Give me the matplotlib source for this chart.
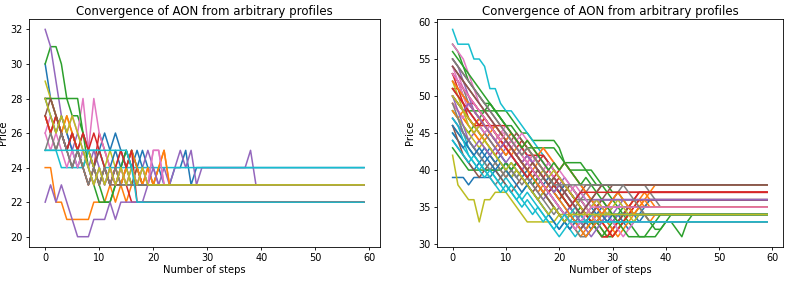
import numpy as np
import matplotlib
matplotlib.use("Agg")
import matplotlib.pyplot as plt

# price paths, recorded step by step until each one settles;
# afterwards a path stays at its last price up to step 59
n_steps = 60

left_paths = [
    [30, 28, 27, 26, 25, 26, 25, 24, 25, 24, 25, 26, 25, 26, 25, 24, 25, 24, 25, 24, 23, 24, 23, 23, 24, 24, 25, 23, 24],
    [24, 24, 22, 22, 21, 21, 21, 21, 21, 22, 22, 22, 23, 22, 23, 22, 23, 24, 23, 24, 23, 24, 25, 23],
    [30, 31, 31, 30, 28, 27, 27, 26, 25, 24, 23, 22, 22, 23, 23, 24, 25, 24, 23],
    [28, 28, 27, 26, 25, 26, 25, 24, 23, 24, 26, 25, 24, 23, 24, 23, 22, 22, 22],
    [32, 31, 29, 27, 26, 25, 26, 25, 24, 25, 24, 23, 24, 23, 24, 25, 24, 23, 24, 25, 24, 23, 24, 23, 24, 25, 24, 25, 23,
     24, 24, 24, 24, 24, 24, 24, 24, 24, 25, 23],
    [27, 26, 25, 26, 25, 26, 25, 26, 25, 24, 25, 24, 23, 24, 23, 24, 23, 24, 23],
    [26, 27, 26, 27, 26, 27, 26, 28, 25, 28, 26, 25, 24, 23, 24, 23, 24, 23, 24, 23, 25, 25, 23],
    [27, 26, 27, 26, 25, 24, 25, 24, 25, 24, 23, 24, 23, 24, 25, 24, 23],
    [29, 28, 27, 26, 27, 26, 25, 24, 25, 24, 23, 24, 25, 24, 23, 24, 23],
    [25, 25, 25, 24, 24, 24, 24, 24, 25, 25, 25, 24],
    [28, 27, 26, 27, 26, 25, 24, 25, 24, 23, 24, 23, 24, 25, 24, 25, 24, 25, 24, 23],
    [27, 26, 27, 26, 27, 26, 25, 24, 23, 24, 23, 24, 23, 24, 23, 24, 25, 24, 23, 24, 23, 24, 25, 23],
    [28, 28, 28, 28, 28, 28, 28, 26, 24, 23, 22, 22, 22, 23, 24, 25, 24, 23],
    [27, 26, 27, 26, 25, 26, 25, 26, 25, 26, 25, 24, 23, 24, 25, 24, 25, 22],
    [22, 23, 22, 23, 22, 21, 20, 20, 20, 21, 21, 21, 22, 21, 22, 22, 22, 22, 22, 23, 24, 23],
    [27, 28, 27, 26, 25, 24, 25, 24, 23, 24, 23, 24, 23],
    [26, 25, 26, 25, 24, 25, 24, 25, 24, 23, 24, 23, 24, 23, 24, 23, 24, 23, 24, 23, 25, 25, 23],
    [25, 26, 25, 26, 25, 24, 25, 24, 23, 24, 23, 24, 23, 24, 23],
    [28, 27, 26, 27, 26, 27, 26, 25, 24, 23, 24, 23, 24, 23, 24, 23, 24, 23, 24, 23],
    [25, 25, 25, 25, 25, 25, 25, 25, 25, 25, 25, 25, 25, 25, 25, 25, 24, 22],
]

right_paths = [
    [39, 39, 39, 38, 39, 39, 39, 39, 40, 39, 40, 41, 40, 39, 40, 39, 38, 37, 38, 37, 36, 35, 34, 33, 34, 33, 32, 33, 34, 33, 32, 33, 34, 35, 34, 33, 34],
    [49, 48, 47, 46, 45, 44, 45, 44, 43, 44, 43, 42, 43, 42, 41, 40, 41, 40, 39, 38, 37, 36, 35, 34, 33, 32, 33, 34, 33, 32, 31, 32, 33, 34, 35, 36, 35, 36],
    [57, 56, 54, 52, 51, 50, 49, 49, 48, 48, 48, 47, 46, 45, 45, 44, 44, 44, 44, 44, 43, 41, 41, 41, 41, 40, 40, 39, 38, 38, 37, 37, 36, 35, 34, 35, 34, 33, 32, 32, 33, 33, 32, 31, 33, 34],
    [51, 51, 50, 49, 49, 48, 47, 46, 45, 44, 43, 44, 43, 44, 43, 42, 41, 42, 41, 40, 39, 38, 37, 36, 35, 34, 33, 32, 31, 31, 32, 33, 34, 35, 36, 37],
    [55, 54, 52, 50, 48, 47, 46, 45, 44, 45, 44, 43, 42, 43, 42, 41, 42, 41, 40, 39, 38, 39, 38, 37, 36, 35, 36, 35, 34, 33, 34, 35, 36],
    [53, 52, 50, 49, 48, 47, 46, 45, 44, 43, 42, 43, 42, 41, 40, 39, 40, 39, 38, 37, 38, 37, 36, 35, 34, 33, 34, 35, 36, 37, 38],
    [54, 53, 51, 50, 49, 48, 47, 46, 46, 45, 45, 44, 43, 42, 43, 42, 41, 40, 41, 40, 39, 38, 37, 36, 35, 34, 33, 34, 35, 34, 35],
    [53, 52, 51, 49, 48, 47, 46, 45, 44, 43, 44, 43, 42, 41, 40, 39, 38, 39, 38, 37, 36, 37, 36, 35, 36, 37, 38, 38, 38, 38, 38, 38, 38, 38, 38, 38, 38, 37, 36, 35],
    [42, 38, 37, 36, 36, 33, 36, 36, 37, 37, 37, 36, 35, 34, 33, 33, 33, 33, 33, 33, 34, 34, 34],
    [59, 57, 57, 57, 55, 55, 54, 51, 51, 49, 48, 48, 47, 46, 45, 44, 43, 42, 41, 40, 39, 38, 37, 36, 35, 34, 33, 32, 33, 34, 33, 32, 33],
    [47, 46, 45, 44, 43, 42, 41, 42, 41, 40, 41, 40, 39, 40, 39, 38, 39, 38, 37, 38, 37, 36, 35, 34, 33, 32, 33, 34, 33, 34, 35],
    [50, 49, 48, 47, 46, 45, 44, 45, 44, 43, 44, 43, 42, 41, 40, 41, 40, 39, 38, 39, 38, 37, 36, 35, 34, 35, 34, 33, 32, 31, 32, 33, 34, 35, 36, 35, 34, 33, 34],
    [48, 47, 46, 45, 46, 47, 48, 49, 48, 47, 46, 45, 44, 43, 42, 41, 40, 39, 38, 39, 38, 37, 38, 37, 36, 35, 34, 33, 32, 31, 31, 32, 33, 34],
    [50, 49, 48, 47, 46, 45, 44, 43, 42, 43, 44, 43, 42, 41, 42, 41, 40, 39, 40, 39, 40, 41, 40, 39, 38, 37, 36, 35, 34, 35, 36, 37],
    [52, 51, 50, 49, 48, 47, 46, 45, 44, 43, 44, 45, 44, 43, 42, 41, 42, 41, 40, 39, 38, 37, 36, 35, 34, 33, 34, 35, 36],
    [54, 53, 52, 51, 50, 49, 48, 47, 46, 45, 44, 43, 42, 41, 40, 39, 40, 39, 38, 37, 36, 37, 38, 37, 36, 35, 36, 37, 38],
    [57, 56, 55, 53, 51, 49, 48, 47, 46, 45, 44, 43, 44, 43, 42, 41, 42, 41, 40, 39, 38, 37, 36, 35, 34, 33, 34, 35],
    [46, 45, 44, 43, 42, 41, 40, 39, 38, 39, 40, 39, 40, 39, 38, 37, 36, 37, 36, 35, 34, 33, 32, 33, 34, 33, 34],
    [51, 50, 49, 48, 47, 46, 47, 46, 45, 44, 43, 42, 41, 40, 39, 40, 39, 40, 39, 38, 37, 36, 35, 34, 33, 32, 33, 34],
    [48, 47, 45, 43, 42, 41, 40, 40, 40, 39, 38, 37, 36, 37, 38, 37, 36, 35, 34, 35, 34, 33, 32, 31, 32, 33, 34, 33],
    [44, 43, 42, 41, 40, 41, 42, 43, 42, 41, 40, 39, 40, 39, 38, 39, 38, 37, 36, 35, 34, 33, 32, 33, 32, 33, 34, 35],
    [49, 48, 47, 46, 45, 44, 43, 42, 41, 40, 39, 40, 41, 40, 39, 38, 37, 38, 37, 36, 35, 34, 33, 32, 31, 32, 33, 34, 33, 32, 31, 32, 33, 34, 35, 36, 37, 36, 35],
    [50, 49, 48, 48, 48, 48, 48, 48, 48, 47, 46, 46, 45, 44, 43, 43, 43, 43, 43, 43, 42, 41, 40, 40, 40, 40, 39, 38, 38, 37, 36, 35, 34, 33, 32, 31, 31, 31, 31, 32, 33, 34],
    [53, 52, 51, 50, 49, 48, 47, 46, 45, 44, 43, 42, 41, 40, 41, 42, 41, 40, 39, 38, 39, 38, 37, 36, 35, 34, 33, 32, 31, 31, 32, 33, 34, 35, 36, 37],
    [47, 46, 45, 44, 45, 46, 45, 44, 43, 42, 43, 42, 41, 40, 41, 40, 39, 38, 37, 36, 35, 34, 33, 32, 33, 34, 35, 36],
    [55, 54, 53, 52, 51, 50, 49, 48, 47, 46, 45, 44, 45, 44, 43, 42, 41, 40, 39, 38, 37, 38, 37, 36, 37, 38],
    [49, 48, 47, 49, 48, 47, 46, 45, 44, 45, 46, 45, 44, 45, 44, 43, 42, 43, 42, 41, 40, 39, 38, 37, 36, 35, 34, 33, 34, 35],
    [51, 50, 49, 48, 47, 46, 45, 44, 43, 42, 41, 40, 39, 40, 39, 38, 39, 38, 37, 36, 35, 34, 35, 36],
    [48, 47, 46, 45, 44, 43, 44, 43, 42, 41, 40, 39, 40, 39, 38, 37, 36, 37, 36, 35, 34, 33, 34],
    [45, 44, 43, 42, 41, 40, 41, 40, 39, 38, 39, 38, 37, 36, 37, 36, 35, 34, 33, 32, 31, 32, 33, 34, 33],
    [45, 44, 43, 44, 43, 42, 43, 42, 41, 42, 41, 40, 41, 40, 39, 40, 39, 38, 39, 38, 37, 38, 37, 36, 37, 36, 35, 34, 35, 34, 33, 34, 33, 32, 33, 34, 35, 36],
    [48, 47, 48, 47, 46, 47, 46, 45, 46, 45, 44, 45, 44, 43, 44, 43, 42, 43, 42, 41, 40, 41, 40, 39, 38, 37, 36, 35, 34, 33, 32, 31, 32, 33, 34, 35, 36, 37, 38],
    [43, 42, 41, 40, 40, 40, 40, 40, 40, 40, 41, 40, 41, 40, 39, 38, 39, 38, 37, 38, 37, 36, 35, 34, 35, 34, 33, 32, 31, 32, 33, 34, 35],
    [53, 51, 49, 47, 46, 46, 46, 46, 46, 46, 46, 45, 44, 43, 42, 42, 42, 42, 41, 40, 39, 38, 37, 36, 35, 34, 33, 33, 33, 32, 31, 32, 33, 34, 35, 36],
    [50, 48, 46, 44, 43, 44, 43, 42, 43, 42, 41, 42, 41, 40, 39, 38, 37, 36, 37, 36, 35, 34, 35, 34, 33, 32, 31, 32, 33, 34, 33, 34],
    [46, 44, 42, 41, 40, 39, 40, 41, 40, 39, 38, 37, 38, 39, 38, 37, 38, 37, 36, 35, 34, 33, 34, 33, 32, 33, 34, 35, 36, 35, 34, 33, 34, 35],
    [54, 52, 50, 48, 47, 46, 45, 46, 45, 44, 43, 44, 43, 42, 41, 42, 41, 40, 41, 40, 39, 38, 37, 38, 37, 36, 35, 36, 35, 34, 33, 32, 31, 32, 33],
    [49, 47, 45, 44, 43, 42, 41, 40, 41, 40, 39, 40, 39, 38, 39, 38, 37, 36, 35, 34, 35, 34, 33, 32, 31, 31, 32, 33, 34, 35, 36, 37, 38],
    [52, 50, 48, 46, 45, 46, 47, 46, 45, 44, 45, 44, 43, 42, 43, 42, 41, 40, 39, 40, 39, 38, 37, 36, 35, 34, 35, 36, 35, 34, 35, 36, 35, 34, 33, 34],
    [44, 43, 42, 41, 42, 41, 40, 39, 38, 37, 38, 37, 36, 35, 36, 35, 34, 33, 34, 33, 32, 33, 34, 35, 34, 33, 34],
    [46, 45, 44, 43, 42, 43, 42, 41, 40, 41, 40, 39, 38, 37, 38, 37, 36, 35, 34, 33, 32, 33, 34, 33, 32, 31, 32, 33, 34, 33, 34],
    [52, 51, 50, 49, 48, 47, 46, 45, 44, 43, 42, 43, 42, 41, 40, 39, 38, 37, 38, 37, 36, 35, 34, 33, 32, 31, 32, 33, 34, 35, 36, 37, 36, 35, 34, 35, 36, 35],
    [56, 55, 54, 53, 52, 51, 50, 49, 48, 47, 46, 45, 44, 43, 44, 43, 42, 41, 40, 41, 40, 41, 40, 39, 38, 39, 38, 37, 36, 35, 34, 33, 32, 31, 31, 31, 31, 32, 33, 34],
    [51, 50, 49, 48, 47, 46, 47, 46, 45, 44, 43, 42, 41, 40, 39, 40, 39, 38, 37, 38, 37, 36, 35, 36, 37],
    [50, 49, 48, 49, 48, 47, 46, 45, 44, 43, 44, 43, 42, 41, 42, 41, 40, 39, 38, 37, 38, 37, 36, 35, 34, 35, 36],
    [54, 53, 52, 51, 50, 49, 48, 47, 46, 45, 44, 43, 42, 41, 40, 41, 40, 39, 38, 39, 38, 37, 36, 35, 34, 35, 36, 37, 38],
    [53, 52, 51, 50, 49, 48, 47, 46, 45, 44, 45, 44, 43, 42, 41, 40, 39, 38, 37, 36, 35, 34, 33, 32, 33, 34, 35],
    [55, 54, 53, 52, 51, 50, 49, 48, 47, 46, 45, 44, 43, 42, 43, 42, 41, 40, 39, 38, 38, 38, 38, 38, 38, 38, 38, 38, 38, 38, 38, 38, 38, 37, 36, 35, 34, 33],
    [50, 49, 48, 47, 46, 45, 44, 43, 42, 41, 40, 41, 40, 39, 38, 37, 36, 35, 34, 35, 34, 33, 34],
    [47, 46, 44, 42, 41, 40, 39, 40, 39, 38, 37, 38, 37, 36, 35, 34, 35, 34, 33, 32, 33, 34, 33],
]

title = "Convergence of AON from arbitrary profiles"


def pad(path):
    return path + [path[-1]] * (n_steps - len(path))


steps = np.arange(n_steps)

fig = plt.figure(figsize=(7.9, 2.84), dpi=100)
ax1 = fig.add_axes([0.037, 0.130, 0.444, 0.803])
ax2 = fig.add_axes([0.553, 0.130, 0.438, 0.803])

for ax, paths in [(ax1, left_paths), (ax2, right_paths)]:
    for p in paths:
        ax.plot(steps, pad(p), linewidth=1.1)
    ax.set_title(title, fontsize=8.5, pad=3)
    ax.set_xlabel("Number of steps", fontsize=7.2, labelpad=1)
    ax.set_ylabel("Price", fontsize=7.2, labelpad=2)
    ax.tick_params(labelsize=7, length=2.5, width=0.6, pad=2)
    ax.set_xticks([0, 10, 20, 30, 40, 50, 60])
    for s in ax.spines.values():
        s.set_linewidth(0.6)

ax1.set_yticks([20, 22, 24, 26, 28, 30, 32])
ax2.set_yticks([30, 35, 40, 45, 50, 55, 60])

fig.savefig("out.png", dpi=100)
